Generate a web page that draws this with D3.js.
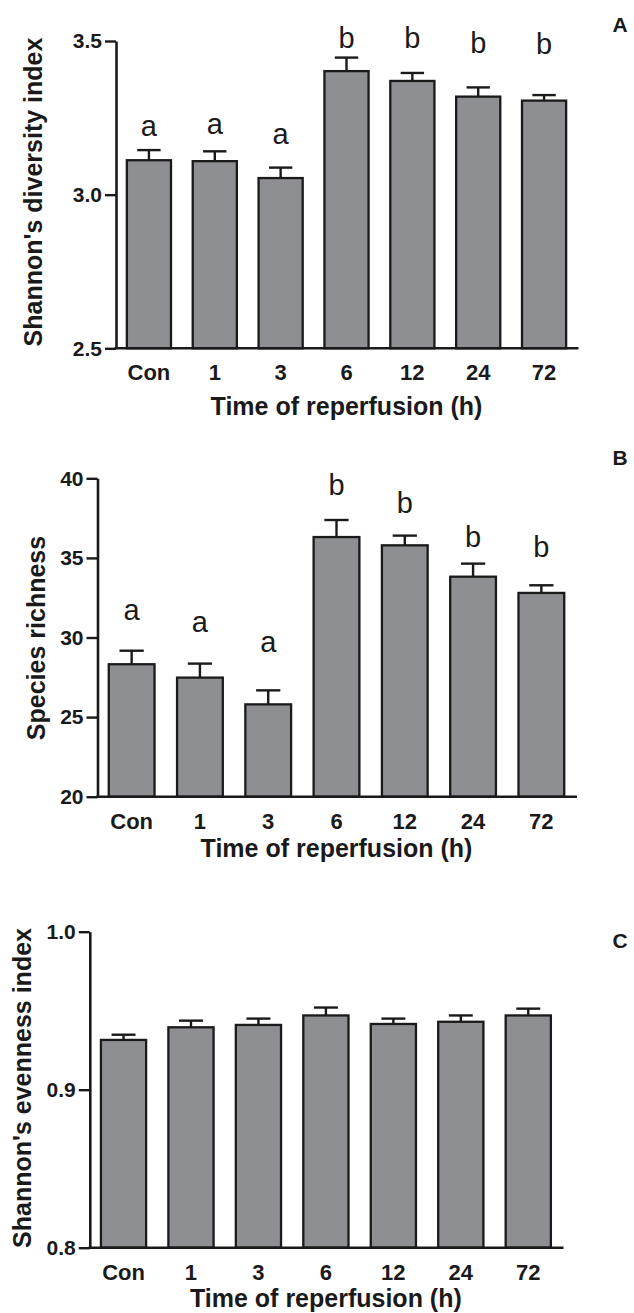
<!DOCTYPE html>
<html><head><meta charset="utf-8">
<script src="https://cdn.jsdelivr.net/npm/d3@7"></script>
<style>
html,body{margin:0;padding:0;background:#fff;}
svg{display:block;}
text{font-family:"Liberation Sans",Arial,sans-serif;fill:#1a1a1a;}
</style></head>
<body>
<svg id="chart" width="634" height="1313"></svg>
<script>
// ---------- data ----------
const categories = ["Con", "1", "3", "6", "12", "24", "72"];
const xTitle = "Time of reperfusion (h)";

const shannonMean = [3.112, 3.109, 3.054, 3.402, 3.370, 3.319, 3.306];
const shannonErr  = [0.033, 0.032, 0.034, 0.044, 0.026, 0.030, 0.018];
const shannonLetters = ["a", "a", "a", "b", "b", "b", "b"];
const shannonLetterPos = [3.192, 3.196, 3.166, 3.476, 3.476, 3.460, 3.457];
const shannonTicks = [2.5, 3.0, 3.5];

const richnessMean = [28.32, 27.48, 25.80, 36.31, 35.79, 33.82, 32.80];
const richnessErr  = [0.85, 0.88, 0.88, 1.07, 0.61, 0.82, 0.48];
const richnessLetters = ["a", "a", "a", "b", "b", "b", "b"];
const richnessLetterPos = [31.10, 30.35, 29.09, 38.95, 37.82, 35.68, 35.05];
const richnessTicks = [20, 25, 30, 35, 40];

const evennessMean = [0.9315, 0.9395, 0.941, 0.947, 0.9416, 0.943, 0.947];
const evennessErr  = [0.0033, 0.0042, 0.004, 0.005, 0.0034, 0.004, 0.0043];
const evennessTicks = [0.8, 0.9, 1.0];

// ---------- layout ----------
const panels = [
  {label:"A", yTitle:"Shannon's diversity index", mean:shannonMean, err:shannonErr,
   letters:shannonLetters, letterPos:shannonLetterPos, ticks:shannonTicks, fmt:d3.format(".1f"),
   x0:116, x1:577, yTop:41, yBot:348.3, titleX:42.3, titleY:192, xTitleOff:66.5, labelY:31.7},
  {label:"B", yTitle:"Species richness", mean:richnessMean, err:richnessErr,
   letters:richnessLetters, letterPos:richnessLetterPos, ticks:richnessTicks, fmt:d3.format("d"),
   x0:97.5, x1:575.5, yTop:478.3, yBot:796.7, titleX:44.5, titleY:638, xTitleOff:60, labelY:465},
  {label:"C", yTitle:"Shannon's evenness index", mean:evennessMean, err:evennessErr,
   letters:null, letterPos:null, ticks:evennessTicks, fmt:d3.format(".1f"),
   x0:89.8, x1:562, yTop:931.7, yBot:1247.7, titleX:30.5, titleY:1088, xTitleOff:59, labelY:948}
];

const svg = d3.select("#chart");
const barFill = "#8e8f93";
const ink = "#1a1a1a";

panels.forEach(p => {
  const g = svg.append("g");
  const x = d3.scaleBand().domain(categories).range([p.x0, p.x1])
              .paddingInner(0.33).paddingOuter(0.165);
  const y = d3.scaleLinear().domain(d3.extent(p.ticks)).range([p.yBot, p.yTop]);
  const data = categories.map((c, i) => ({c, m:p.mean[i], e:p.err[i],
               l:p.letters ? p.letters[i] : null, lp:p.letterPos ? p.letterPos[i] : null}));

  // error bars (drawn under bars)
  const capW = x.bandwidth() * 0.53;
  const eb = g.append("g").attr("stroke", ink).attr("stroke-width", 2.4).attr("fill", "none");
  data.forEach(d => {
    const cx = x(d.c) + x.bandwidth() / 2;
    eb.append("line").attr("x1", cx).attr("x2", cx).attr("y1", y(d.m)).attr("y2", y(d.m + d.e));
    eb.append("line").attr("x1", cx - capW/2).attr("x2", cx + capW/2)
      .attr("y1", y(d.m + d.e)).attr("y2", y(d.m + d.e));
  });

  // bars
  g.append("g").selectAll("rect").data(data).join("rect")
    .attr("x", d => x(d.c))
    .attr("y", d => y(d.m))
    .attr("width", x.bandwidth())
    .attr("height", d => y(y.domain()[0]) - y(d.m))
    .attr("fill", barFill)
    .attr("stroke", ink)
    .attr("stroke-width", 2.3);

  // significance letters
  if (p.letters) {
    g.append("g").selectAll("text").data(data).join("text")
      .attr("x", d => x(d.c) + x.bandwidth() / 2)
      .attr("y", d => y(d.lp))
      .attr("text-anchor", "middle")
      .attr("font-size", 29)
      .text(d => d.l);
  }

  // y axis
  const ya = g.append("g").attr("transform", `translate(${p.x0},0)`)
    .call(d3.axisLeft(y).tickValues(p.ticks).tickFormat(p.fmt)
          .tickSize(11).tickPadding(3).tickSizeOuter(0));
  ya.select(".domain").attr("stroke", ink).attr("stroke-width", 2.6);
  ya.selectAll(".tick line").attr("stroke", ink).attr("stroke-width", 2.4);
  ya.selectAll(".tick text").attr("font-size", 21).attr("font-weight", "bold")
    .attr("fill", ink).attr("font-family", '"Liberation Sans",Arial,sans-serif');

  // x axis line
  g.append("line").attr("x1", p.x0 - 1.3).attr("x2", p.x1 + 1.5)
    .attr("y1", p.yBot).attr("y2", p.yBot)
    .attr("stroke", ink).attr("stroke-width", 2.6);

  // x category labels
  g.append("g").selectAll("text").data(categories).join("text")
    .attr("x", c => x(c) + x.bandwidth() / 2)
    .attr("y", p.yBot + 32)
    .attr("text-anchor", "middle")
    .attr("font-size", 22).attr("font-weight", "bold")
    .text(c => c);

  // x title
  g.append("text")
    .attr("x", (p.x0 + p.x1) / 2).attr("y", p.yBot + p.xTitleOff)
    .attr("text-anchor", "middle").attr("font-size", 25).attr("font-weight", "bold")
    .text(xTitle);

  // y title
  g.append("text")
    .attr("transform", `translate(${p.titleX},${p.titleY}) rotate(-90)`)
    .attr("text-anchor", "middle").attr("font-size", 25).attr("font-weight", "bold")
    .text(p.yTitle);

  // panel label
  g.append("text").attr("x", 612.5).attr("y", p.labelY)
    .attr("font-size", 21).attr("font-weight", "bold").text(p.label);
});
</script>
</body></html>
